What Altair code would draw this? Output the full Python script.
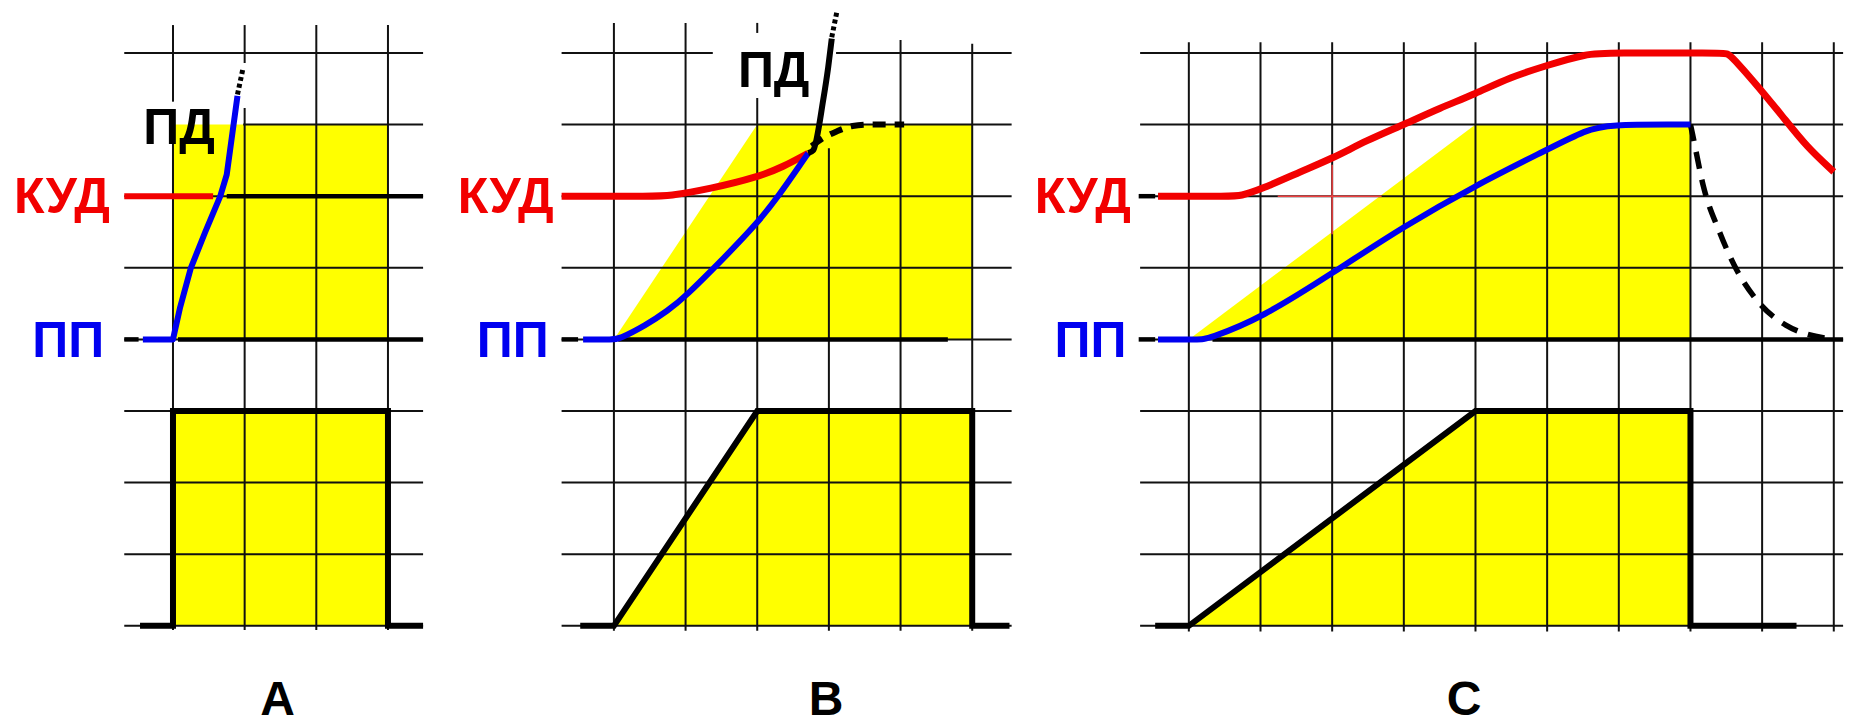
import altair as alt
import pandas as pd

# Canvas and shared grid-unit scales (one grid cell = one unit)
W, H = 1856, 728
X_DOMAIN = [0.0, 25.9]
Y_DOMAIN = [-5.427, 4.740]

# Left edge of each panel's grid, in global grid units
ORIGIN = {"A": 2.414, "B": 8.567, "C": 16.590}

RED = "#F20000"
BLUE = "#0000F0"
YELLOW = "#FFFF00"
BLACK = "#000000"

# ---------- grid ----------
# vertical grid segments: (panel, column, top, bottom)
grid_v = [
    ("A", 0, 4.39, 3.32), ("A", 0, 3.0, -4.06),
    ("A", 1, 4.39, 3.86), ("A", 1, 3.23, -4.06),
    ("A", 2, 4.39, -4.06), ("A", 3, 4.39, -4.06),
    ("B", 0, 4.42, -4.07), ("B", 1, 4.42, -4.07),
    ("B", 2, 4.42, 4.28), ("B", 2, 3.37, -4.07),
    ("B", 3, 2.67, -4.07), ("B", 4, 4.18, -4.07), ("B", 5, 4.13, -4.07),
] + [("C", i, 4.15, -4.08) for i in range(10)]

# horizontal grid segments: (panel, row, left, right)
grid_h = (
    [("A", r, -0.68, 3.49) for r in (4, 2, 1, 0, -1, -2, -3, -4)]
    + [("A", 3, 0.98, 3.49)]
    + [("B", r, -0.73, 5.55) for r in (3, 2, 1, 0, -1, -2, -3, -4)]
    + [("B", 4, -0.73, 1.38), ("B", 4, 3.10, 5.55)]
    + [("C", r, -0.68, 9.13) for r in range(-4, 5)]
)

# heavy black level lines: (panel, level, left, right)
levels = [
    ("A", 0, -0.68, -0.48), ("A", 0, 0.07, 3.49), ("A", 2, 0.75, 3.49),
    ("B", 0, -0.73, -0.50), ("B", 0, 0.06, 4.66),
    ("C", 0, -0.70, -0.47), ("C", 0, 0.33, 9.13), ("C", 2, -0.70, -0.47),
]

# thin red cross-hair in panel C: (x, x2, y, y2)
cross_C = [(1.24, 2.69, 2.0, 2.0), (2.0, 2.0, 2.44, 1.47)]

# ---------- yellow fields: (panel, id, x, top, bottom) ----------
fields = [
    ("A", "A_up", 0, 3, 0), ("A", "A_up", 3, 3, 0),
    ("A", "A_dn", 0, -1, -4), ("A", "A_dn", 3, -1, -4),
    ("B", "B_up", 0, 0, 0), ("B", "B_up", 2, 3, 0), ("B", "B_up", 5, 3, 0),
    ("B", "B_dn", 0, -4, -4), ("B", "B_dn", 2, -1, -4), ("B", "B_dn", 5, -1, -4),
    ("C", "C_up", 0, 0, 0), ("C", "C_up", 4, 3, 0), ("C", "C_up", 7, 3, 0),
    ("C", "C_dn", 0, -4, -4), ("C", "C_dn", 4, -1, -4), ("C", "C_dn", 7, -1, -4),
]

# ---------- control pulses (lower plots) ----------
pulse_A_x = [-0.46, 0, 0, 3, 3, 3.49]
pulse_A_y = [-4, -4, -1, -1, -4, -4]
pulse_B_x = [-0.47, 0, 2, 5, 5, 5.52]
pulse_B_y = [-4, -4, -1, -1, -4, -4]
pulse_C_x = [-0.47, 0, 4, 7, 7, 8.48]
pulse_C_y = [-4, -4, -1, -1, -4, -4]

# ---------- КУД curves ----------
kud_A_x = [-0.68, 0.56]
kud_A_y = [2, 2]
kud_B_x = [-0.73, 0.6, 0.74, 1.34, 2.02, 2.36, 2.71]
kud_B_y = [2, 2.0, 2.0, 2.1, 2.27, 2.41, 2.60]
kud_C_x = [-0.43, 0.6, 0.71, 1.02, 1.55, 2.01, 2.48, 3.0, 3.5, 4.0, 4.48, 5.01,
           5.55, 5.87, 7.4, 7.52, 7.6, 7.87, 8.29, 8.62, 9.0]
kud_C_y = [2.0, 2.0, 2.0, 2.1, 2.34, 2.53, 2.78, 3.0, 3.23, 3.43, 3.66, 3.83,
           3.99, 4.0, 4.0, 4.0, 3.92, 3.62, 3.11, 2.69, 2.34]

# ---------- ПП curves ----------
pp_A_x = [-0.42, 0, 0.1, 0.25, 0.45, 0.66, 0.75, 0.9]
pp_A_y = [0, 0, 0.45, 1.0, 1.5, 2.0, 2.3, 3.4]
pp_B_x = [-0.43, 0.0, 0.06, 0.45, 0.75, 1.0, 1.5, 2.0, 2.31, 2.6, 2.71]
pp_B_y = [0, 0, 0, 0.2, 0.4, 0.6, 1.1, 1.62, 2.02, 2.44, 2.60]
pp_C_x = [-0.43, 0.15, 0.25, 1.02, 2.01, 3.0, 4.0, 5.0, 5.55, 5.87, 6.8, 7.0]
pp_C_y = [0, 0, 0, 0.3, 0.93, 1.58, 2.15, 2.65, 2.93, 3.0, 3.0, 3.0]

# ---------- ПД breakdown (solid) and its fading tail ----------
pd_B_x = [2.71, 2.78, 2.92, 2.99, 3.04]
pd_B_y = [2.60, 2.64, 3.34, 3.80, 4.20]
tail_A_x = [0.90, 0.98]
tail_A_y = [3.42, 3.80]
tail_B_x = [3.04, 3.11]
tail_B_y = [4.22, 4.57]

# ---------- dashed continuations ----------
dash_B_x = [2.76, 2.90, 3.10, 3.33, 3.59, 4.05]
dash_B_y = [2.70, 2.80, 2.90, 2.98, 3.0, 3.0]
dash_C_x = [7.0, 7.03, 7.18, 7.41, 7.64, 7.95, 8.33, 9.0]
dash_C_y = [3.0, 2.86, 2.14, 1.49, 0.98, 0.52, 0.20, 0.0]

# ---------- labels ----------
side_labels = [  # (panel, text, x, y, colour)
    ("A", "КУД", -0.88, 1.76, RED), ("A", "ПП", -0.96, -0.24, BLUE),
    ("B", "КУД", -0.84, 1.76, RED), ("B", "ПП", -0.91, -0.24, BLUE),
    ("C", "КУД", -0.81, 1.76, RED), ("C", "ПП", -0.87, -0.24, BLUE),
]
pd_labels = [("A", "ПД", 0.084, 2.73), ("B", "ПД", 2.23, 3.52)]
panel_titles = [("A", "A", 1.46, -5.245), ("B", "B", 2.96, -5.245), ("C", "C", 3.84, -5.245)]


def gx(panel, x):
    return ORIGIN[panel] + x


def series(name, panel, xs, ys):
    return [{"id": name, "k": i, "x": gx(panel, a), "y": b} for i, (a, b) in enumerate(zip(xs, ys))]


xs = alt.Scale(domain=X_DOMAIN, nice=False, zero=False)
ys = alt.Scale(domain=Y_DOMAIN, nice=False, zero=False)
X = lambda f: alt.X(f, type="quantitative", scale=xs, axis=None)
Y = lambda f: alt.Y(f, type="quantitative", scale=ys, axis=None)

# tables
gv = pd.DataFrame([{"x": gx(p, c), "x2": gx(p, c), "y": t, "y2": b} for p, c, t, b in grid_v])
gh = pd.DataFrame([{"x": gx(p, l), "x2": gx(p, r), "y": row, "y2": row} for p, row, l, r in grid_h])
grid = pd.concat([gv, gh], ignore_index=True)
lv = pd.DataFrame([{"x": gx(p, l), "x2": gx(p, r), "y": v, "y2": v} for p, v, l, r in levels])
cr = pd.DataFrame([{"x": gx("C", a), "x2": gx("C", b), "y": c, "y2": d} for a, b, c, d in cross_C])
fl = pd.DataFrame([{"id": i, "x": gx(p, x), "top": t, "bot": b} for p, i, x, t, b in fields])

pulses = pd.DataFrame(series("pA", "A", pulse_A_x, pulse_A_y)
                      + series("pB", "B", pulse_B_x, pulse_B_y)
                      + series("pC", "C", pulse_C_x, pulse_C_y))
kud_lin = pd.DataFrame(series("kA", "A", kud_A_x, kud_A_y))
kud = pd.DataFrame(series("kB", "B", kud_B_x, kud_B_y)
                   + series("kC", "C", kud_C_x, kud_C_y))
pp_lin = pd.DataFrame(series("ppA", "A", pp_A_x, pp_A_y))
ppc = pd.DataFrame(series("ppB", "B", pp_B_x, pp_B_y)
                   + series("ppC", "C", pp_C_x, pp_C_y))
pdb = pd.DataFrame(series("pdB", "B", pd_B_x, pd_B_y))
tails = pd.DataFrame(series("tA", "A", tail_A_x, tail_A_y) + series("tB", "B", tail_B_x, tail_B_y))
dashB = pd.DataFrame(series("dB", "B", dash_B_x, dash_B_y))
dashC = pd.DataFrame(series("dC", "C", dash_C_x, dash_C_y))
side = pd.DataFrame([{"t": t, "x": gx(p, x), "y": y, "c": c} for p, t, x, y, c in side_labels])
pdl = pd.DataFrame([{"t": t, "x": gx(p, x), "y": y} for p, t, x, y in pd_labels])
ttl = pd.DataFrame([{"t": t, "x": gx(p, x), "y": y} for p, t, x, y in panel_titles])

layer_fields = alt.Chart(fl).mark_area(color=YELLOW, opacity=1).encode(
    x=X("x"), y=Y("top"), y2="bot", detail="id:N")

layer_grid = alt.Chart(grid).mark_rule(color="#111111", strokeWidth=2).encode(
    x=X("x"), x2="x2", y=Y("y"), y2="y2")

layer_cross = alt.Chart(cr).mark_rule(color="#F04040", strokeWidth=1.5).encode(
    x=X("x"), x2="x2", y=Y("y"), y2="y2")

layer_levels = alt.Chart(lv).mark_rule(color=BLACK, strokeWidth=4.5).encode(
    x=X("x"), x2="x2", y=Y("y"), y2="y2")

layer_pulses = alt.Chart(pulses).mark_line(color=BLACK, strokeWidth=6, strokeJoin="miter").encode(
    x=X("x"), y=Y("y"), detail="id:N", order="k:Q")

layer_dashB = alt.Chart(dashB).mark_line(color=BLACK, strokeWidth=6, strokeDash=[13, 9],
                                         interpolate="monotone").encode(
    x=X("x"), y=Y("y"), order="k:Q")

layer_dashC = alt.Chart(dashC).mark_line(color=BLACK, strokeWidth=5.5, strokeDash=[17, 11],
                                         interpolate="monotone").encode(
    x=X("x"), y=Y("y"), order="k:Q")

layer_kud_lin = alt.Chart(kud_lin).mark_line(color=RED, strokeWidth=6).encode(
    x=X("x"), y=Y("y"), order="k:Q")

layer_kud = alt.Chart(kud).mark_line(color=RED, strokeWidth=7, interpolate="basis").encode(
    x=X("x"), y=Y("y"), detail="id:N", order="k:Q")

layer_pp_lin = alt.Chart(pp_lin).mark_line(color=BLUE, strokeWidth=6, strokeJoin="round").encode(
    x=X("x"), y=Y("y"), order="k:Q")

layer_pp = alt.Chart(ppc).mark_line(color=BLUE, strokeWidth=6, interpolate="basis").encode(
    x=X("x"), y=Y("y"), detail="id:N", order="k:Q")

layer_pd = alt.Chart(pdb).mark_line(color=BLACK, strokeWidth=6, interpolate="monotone").encode(
    x=X("x"), y=Y("y"), order="k:Q")

layer_tails = alt.Chart(tails).mark_line(color=BLACK, strokeWidth=5, strokeDash=[4, 3]).encode(
    x=X("x"), y=Y("y"), detail="id:N", order="k:Q")

font = "Liberation Sans"
layer_side = alt.Chart(side).mark_text(align="right", baseline="alphabetic", font=font,
                                       fontWeight="bold", fontSize=50).encode(
    x=X("x"), y=Y("y"), text="t:N", color=alt.Color("c:N", scale=None))

layer_pdl = alt.Chart(pdl).mark_text(align="center", baseline="alphabetic", font=font,
                                     fontWeight="bold", fontSize=50, color=BLACK).encode(
    x=X("x"), y=Y("y"), text="t:N")

layer_ttl = alt.Chart(ttl).mark_text(align="center", baseline="alphabetic", font=font,
                                     fontWeight="bold", fontSize=48, color=BLACK).encode(
    x=X("x"), y=Y("y"), text="t:N")

chart = alt.layer(
    layer_fields, layer_grid, layer_cross, layer_levels, layer_pulses, layer_dashB, layer_dashC,
    layer_kud_lin, layer_kud, layer_pp_lin, layer_pp, layer_pd, layer_tails,
    layer_side, layer_pdl, layer_ttl,
).properties(
    width=W, height=H, padding=0, background="white",
    autosize=alt.AutoSizeParams(type="none"),
).configure_view(stroke=None)

chart.save("out.html", embed_options={"renderer": "svg", "actions": False})
